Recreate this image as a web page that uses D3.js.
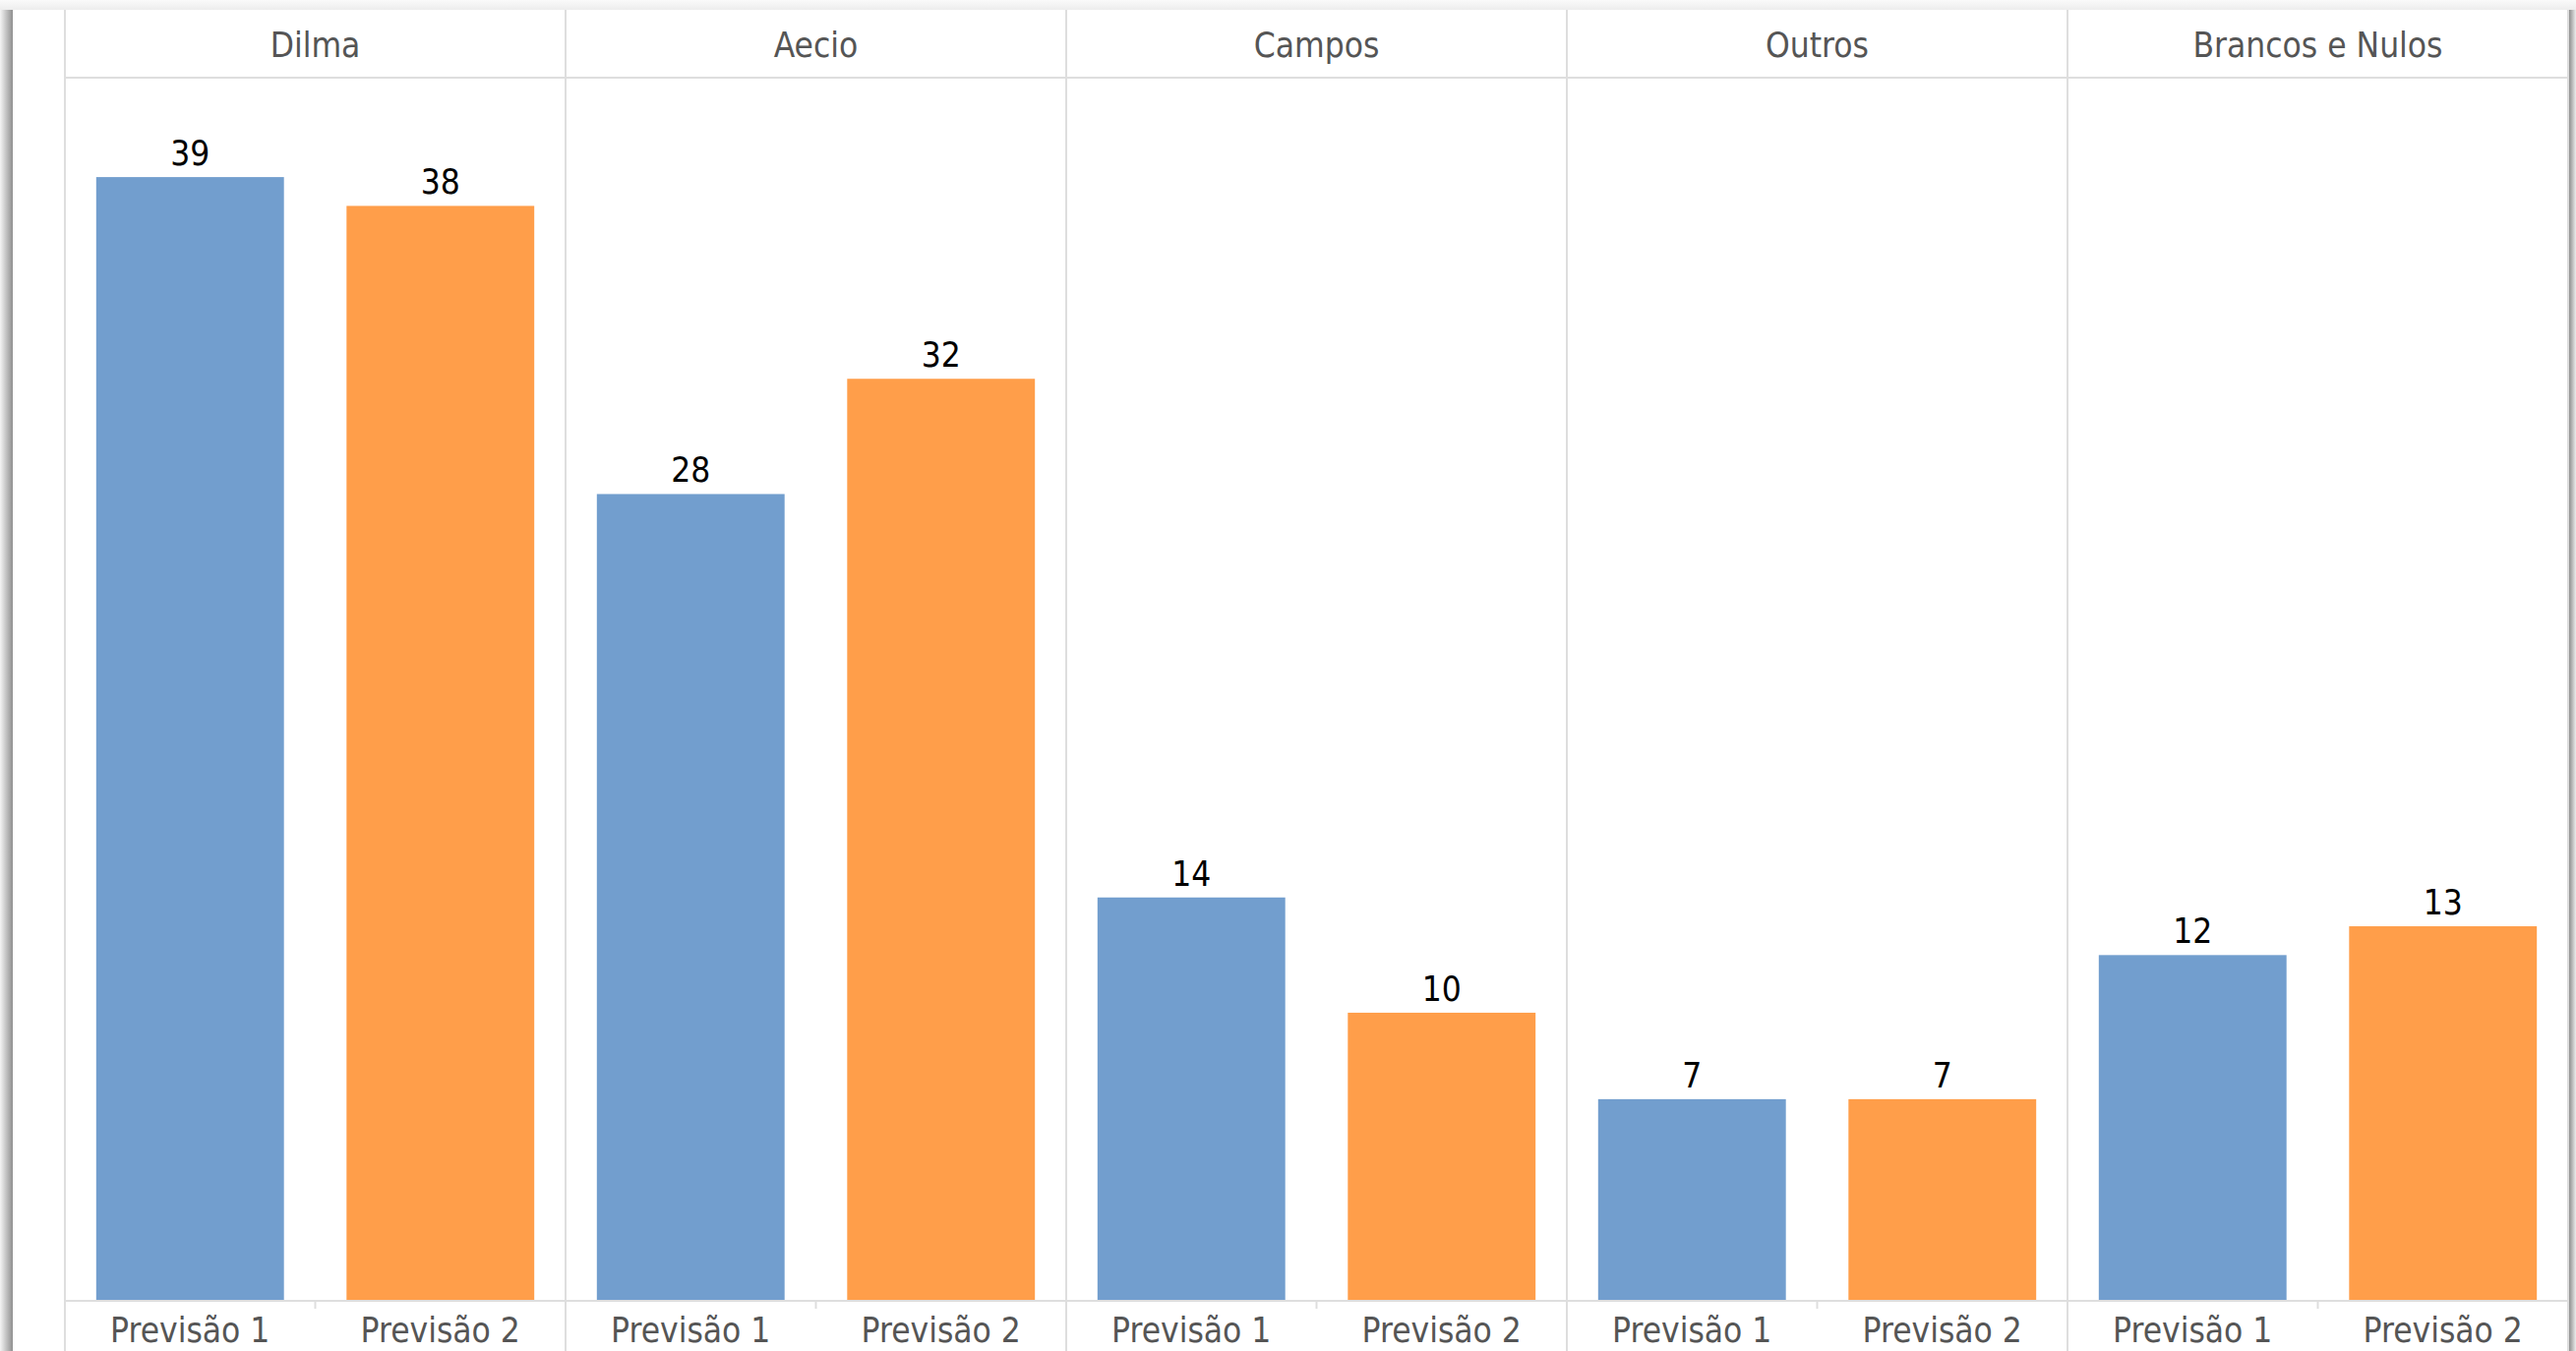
<!DOCTYPE html>
<html>
<head>
<meta charset="utf-8">
<script src="https://cdn.jsdelivr.net/npm/d3@7"></script>
<style>
  body { margin: 0; background: #f7f7f7; }
  text { font-family: "DejaVu Sans Condensed", "DejaVu Sans", sans-serif; font-stretch: condensed; }
</style>
</head>
<body>
<script>
const candidates = ['Dilma', 'Aecio', 'Campos', 'Outros', 'Brancos e Nulos'];
const series = ['Previsão 1', 'Previsão 2'];
const previsao1 = [39, 28, 14, 7, 12];
const previsao2 = [38, 32, 10, 7, 13];
const seriesColors = ['#729ECE', '#FF9E4A'];

const width = 2619;
const height = 1374;

const svg = d3.select('body')
    .append('svg')
    .attr('width', width)
    .attr('height', height)
    .style('display', 'block');

// panel + shadows
const defs = svg.append('defs');
const gl = defs.append('linearGradient').attr('id', 'shLeft').attr('x1', 0).attr('x2', 1);
gl.append('stop').attr('offset', 0).attr('stop-color', '#f4f4f4');
gl.append('stop').attr('offset', 1).attr('stop-color', '#8f8f8f');
const gr = defs.append('linearGradient').attr('id', 'shRight').attr('x1', 0).attr('x2', 1);
gr.append('stop').attr('offset', 0).attr('stop-color', '#8f8f8f');
gr.append('stop').attr('offset', 1).attr('stop-color', '#ececec');
const gt = defs.append('linearGradient').attr('id', 'shTop').attr('x1', 0).attr('x2', 0).attr('y1', 0).attr('y2', 1);
gt.append('stop').attr('offset', 0).attr('stop-color', '#fafafa');
gt.append('stop').attr('offset', 1).attr('stop-color', '#ededed');

const panel = { left: 13, top: 10, right: 2612 };
svg.append('rect').attr('x', 0).attr('y', 0).attr('width', width).attr('height', panel.top)
    .attr('fill', 'url(#shTop)');
svg.append('rect').attr('x', 0).attr('y', panel.top).attr('width', panel.left).attr('height', height)
    .attr('fill', 'url(#shLeft)');
svg.append('rect').attr('x', panel.right).attr('y', panel.top).attr('width', width - panel.right).attr('height', height)
    .attr('fill', 'url(#shRight)');
svg.append('rect').attr('x', panel.left).attr('y', panel.top)
    .attr('width', panel.right - panel.left).attr('height', height - panel.top)
    .attr('fill', '#fff');

const margin = { top: 79, left: 66, right: 2611, bottom: 1323 };

const xOuter = d3.scaleBand()
    .domain(candidates)
    .range([margin.left, margin.right]);

const xInner = d3.scaleBand()
    .domain(series)
    .range([0, xOuter.bandwidth()])
    .paddingInner(0.25)
    .paddingOuter(0.125);

const yScale = d3.scaleLinear()
    .domain([0, 42.45])
    .range([margin.bottom, margin.top]);

const data = [];
candidates.forEach((c, i) => {
  data.push({ cand: c, serie: series[0], value: previsao1[i] });
  data.push({ cand: c, serie: series[1], value: previsao2[i] });
});
const color = d3.scaleOrdinal().domain(series).range(seriesColors);

const lineColor = '#dedede';

// header line and axis line
svg.append('line')
    .attr('x1', margin.left).attr('x2', margin.right + 1)
    .attr('y1', margin.top).attr('y2', margin.top)
    .attr('stroke', lineColor).attr('stroke-width', 2);

// pane dividers
const dividers = candidates.map(c => xOuter(c)).concat([margin.right]);
svg.selectAll('line.div')
    .data(dividers)
    .enter()
    .append('line')
    .attr('class', 'div')
    .attr('x1', d => d).attr('x2', d => d)
    .attr('y1', panel.top).attr('y2', height)
    .attr('stroke', lineColor).attr('stroke-width', 2);

// header labels
svg.selectAll('text.head')
    .data(candidates)
    .enter()
    .append('text')
    .attr('class', 'head')
    .attr('x', d => xOuter(d) + xOuter.bandwidth() / 2)
    .attr('y', 58)
    .attr('text-anchor', 'middle')
    .attr('font-size', 35)
    .attr('fill', '#555')
    .text(d => d);

// bars
const panes = svg.selectAll('g.pane')
    .data(candidates)
    .enter()
    .append('g')
    .attr('class', 'pane')
    .attr('transform', d => `translate(${xOuter(d)},0)`);

panes.selectAll('rect')
    .data(c => data.filter(d => d.cand === c))
    .enter()
    .append('rect')
    .attr('x', d => xInner(d.serie))
    .attr('y', d => yScale(d.value))
    .attr('width', xInner.bandwidth())
    .attr('height', d => yScale(0) - yScale(d.value))
    .attr('fill', d => color(d.serie));

panes.selectAll('text.val')
    .data(c => data.filter(d => d.cand === c))
    .enter()
    .append('text')
    .attr('class', 'val')
    .attr('x', d => xInner(d.serie) + xInner.bandwidth() / 2)
    .attr('y', d => yScale(d.value) - 12)
    .attr('text-anchor', 'middle')
    .attr('font-size', 35)
    .attr('fill', '#000')
    .text(d => d.value);

// bottom axis per pane
panes.each(function() {
  const axis = d3.axisBottom(xInner).tickSize(0).tickPadding(18);
  const g = d3.select(this).append('g')
      .attr('transform', `translate(0,${margin.bottom})`)
      .call(axis);
  g.select('.domain').remove();
  g.selectAll('text')
      .attr('font-size', 35)
      .attr('fill', '#555')
      .attr('dy', 0)
      .attr('y', 42)
      .style('font-family', '"DejaVu Sans Condensed", "DejaVu Sans", sans-serif');
  // tick between the two labels
  g.append('line')
      .attr('x1', xOuter.bandwidth() / 2).attr('x2', xOuter.bandwidth() / 2)
      .attr('y1', 0).attr('y2', 8)
      .attr('stroke', lineColor).attr('stroke-width', 2);
});

svg.append('line')
    .attr('x1', margin.left).attr('x2', margin.right + 1)
    .attr('y1', margin.bottom).attr('y2', margin.bottom)
    .attr('stroke', lineColor).attr('stroke-width', 2);
</script>
</body>
</html>
